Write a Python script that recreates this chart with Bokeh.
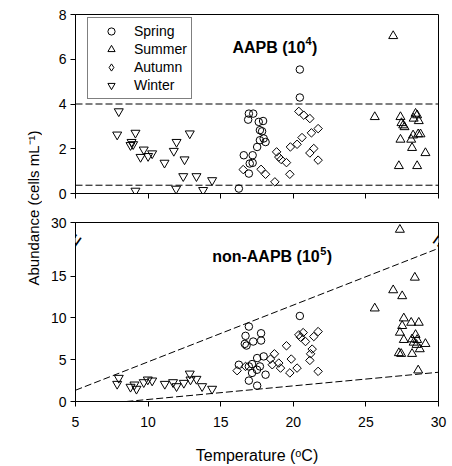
from math import pi
from bokeh.plotting import figure
from bokeh.models import Range1d, FixedTicker, Span, Label, Legend, LegendItem, BoxAnnotation
from bokeh.layouts import row, column
from bokeh.embed import file_html
from bokeh.resources import INLINE

FONT = "Liberation Sans"

# ---------------- data ----------------
x_ticks = [5, 10, 15, 20, 25, 30]
top_y_ticks = [0, 2, 4, 6, 8]
bottom_y_ticks = [0, 5, 10, 15]
bottom_top_label = "30"

# AAPB (x10^4 cells/mL)
spring_t_top = [16.25, 16.59, 16.94, 17.24, 16.89, 17.2, 17.0, 17.2, 16.94, 17.51, 17.62, 17.7, 17.7,
                17.92, 17.85, 17.96, 18.09, 20.45, 20.45]
spring_v_top = [0.22, 1.71, 3.57, 3.57, 3.30, 1.71, 1.34, 1.37, 0.89, 2.08, 3.2, 2.83, 2.38,
                3.24, 2.78, 2.46, 2.30, 5.54, 4.29]
summer_t_top = [26.88, 25.61, 27.38, 27.45, 27.57, 27.66, 28.42, 28.53, 28.29, 28.64, 27.38, 28.12,
                28.25, 28.6, 28.76, 28.18, 29.1, 27.27, 28.53]
summer_v_top = [7.04, 3.42, 3.42, 3.15, 3.05, 2.97, 3.57, 3.5, 3.35, 3.24, 2.41, 2.41,
                2.6, 2.65, 2.65, 2.04, 1.81, 1.23, 1.23]
autumn_t_top = [16.55, 17.78, 18.09, 18.73, 18.85, 19.0, 19.16, 19.53, 19.76, 19.8, 20.26, 20.6,
                20.38, 20.72, 21.14, 21.25, 21.71, 21.41, 21.14, 21.71]
autumn_v_top = [1.07, 1.08, 0.86, 0.52, 1.86, 1.63, 1.52, 1.38, 0.86, 2.08, 2.2, 2.5,
                3.67, 3.5, 3.35, 2.71, 2.9, 2.01, 1.81, 1.49]
winter_t_top = [7.98, 7.87, 9.13, 8.86, 8.97, 8.79, 9.70, 9.48, 10.0, 10.28, 9.13, 11.13, 11.77,
                11.96, 12.51, 12.87, 12.42, 11.93, 13.33, 13.79, 14.41]
winter_v_top = [3.67, 2.63, 2.71, 2.30, 2.20, 2.16, 1.96, 1.63, 1.67, 1.79, 0.12, 1.37, 1.90,
                2.30, 1.52, 2.68, 0.77, 0.21, 0.77, 0.15, 0.59]
top_hlines = [4.0, 0.37]

# non-AAPB (x10^5 cells/mL)
spring_t_bot = [16.94, 16.71, 16.66, 16.78, 17.24, 17.78, 17.78, 16.25, 16.94, 17.16, 17.51, 17.16,
                16.94, 17.51, 17.7, 20.45, 17.5, 18.09, 17.96]
spring_v_bot = [8.97, 7.86, 6.9, 6.7, 7.18, 8.17, 7.3, 4.4, 4.2, 4.48, 5.2, 3.42,
                2.5, 1.9, 4.2, 10.24, 3.8, 3.21, 5.4]
summer_t_bot = [27.34, 28.37, 26.88, 27.5, 25.61, 27.61, 27.5, 27.34, 28.12, 28.64, 28.42, 27.61,
                28.18, 28.29, 28.53, 29.1, 28.71, 28.49, 27.27, 27.43, 28.18, 28.6]
summer_v_bot = [27.0, 14.84, 13.33, 12.62, 11.15, 9.96, 9.05, 8.25, 9.44, 9.44, 7.98, 7.38,
                7.46, 7.06, 7.38, 6.9, 6.27, 6.79, 5.8, 5.71, 5.71, 3.73]
autumn_t_bot = [16.13, 16.71, 18.43, 18.7, 18.55, 19.0, 19.12, 19.53, 19.76, 19.86, 20.26, 20.38,
                20.68, 20.5, 20.84, 21.41, 21.71, 21.3, 21.19, 21.14, 21.71]
autumn_v_bot = [3.69, 4.2, 5.08, 5.71, 4.4, 4.6, 4.0, 6.67, 3.42, 5.08, 4.0, 7.98,
                8.25, 7.7, 7.18, 7.77, 8.37, 6.27, 5.71, 4.92, 3.61]
winter_t_bot = [7.98, 7.87, 8.79, 9.06, 9.2, 9.70, 9.98, 10.28, 11.15, 11.72, 11.96, 12.46,
                12.87, 12.92, 13.33, 13.72, 14.41]
winter_v_bot = [2.82, 2.1, 1.75, 2.02, 1.51, 2.3, 2.62, 2.5, 2.1, 2.3, 1.82, 2.22,
                3.33, 2.62, 2.7, 1.82, 1.51]
upper_env_t = [5, 29.8]
upper_env_v = [1.35, 18.2]
lower_env_t = [8.5, 30]
lower_env_v = [0, 3.5]

# broken axis of the lower panel: 0..20 linear, 25..30 compressed above the break
BREAK_LOW = 20.0
POS_30 = 21.43
UPPER_SCALE = 0.286
BREAK_POS = 19.3


def ypos(v):
    return v if v <= BREAK_LOW else POS_30 - (30 - v) * UPPER_SCALE


def style_axis(ax):
    ax.axis_line_color = "black"
    ax.axis_line_width = 1
    ax.major_tick_line_color = "black"
    ax.major_tick_out = 5
    ax.major_tick_in = 0
    ax.minor_tick_line_color = None
    ax.major_label_text_font = FONT
    ax.major_label_text_font_size = "14px"
    ax.major_label_text_color = "black"


MK = dict(line_color="black", fill_color=None, line_width=1)


def add_points(p, ts, vs):
    r1 = p.scatter(ts[0], vs[0], marker="circle", size=7.5, **MK)
    r2 = p.scatter(ts[1], vs[1], marker="triangle", size=9, **MK)
    r3 = p.scatter(ts[2], vs[2], marker="square", angle=pi / 4, size=6, **MK)
    r4 = p.scatter(ts[3], vs[3], marker="inverted_triangle", size=9, **MK)
    return r1, r2, r3, r4


def add_title(p, x, y, main, sup, main_w):
    kw = dict(text_font=FONT, text_font_style="bold", text_baseline="alphabetic", text_color="black")
    p.add_layout(Label(x=x, y=y, text=main, text_font_size="16px", **kw))
    p.add_layout(Label(x=x, y=y, text=sup, text_font_size="11px", x_offset=main_w, y_offset=6, **kw))
    p.add_layout(Label(x=x, y=y, text=")", text_font_size="16px", x_offset=main_w + 6.5, **kw))


# ---------------- top panel ----------------
p1 = figure(width=410, height=207, x_range=Range1d(5, 30), y_range=Range1d(0, 8),
            output_backend="svg", toolbar_location=None,
            min_border_left=33, min_border_right=14, min_border_top=14, min_border_bottom=14)
p1.grid.visible = False
p1.outline_line_color = "black"
style_axis(p1.xaxis[0])
style_axis(p1.yaxis[0])
p1.xaxis.ticker = FixedTicker(ticks=x_ticks)
p1.xaxis.major_label_overrides = {t: "" for t in x_ticks}
p1.xaxis.major_label_standoff = 0
p1.yaxis.ticker = FixedTicker(ticks=top_y_ticks)
p1.yaxis.major_label_standoff = 4

for h in top_hlines:
    p1.add_layout(Span(location=h, dimension="width", line_color="black",
                       line_dash="7 3", line_width=1))

r_sp, r_su, r_au, r_wi = add_points(
    p1, [spring_t_top, summer_t_top, autumn_t_top, winter_t_top],
    [spring_v_top, summer_v_top, autumn_v_top, winter_v_top])

# legend-only diamond swatch (a single NaN point: nothing is drawn in the plot)
r_au_leg = p1.scatter([float("nan")], [float("nan")], marker="diamond", size=8, **MK)

add_title(p1, 15.81, 6.53, "AAPB (10", "4", 73)

legend = Legend(items=[LegendItem(label="Spring", renderers=[r_sp]),
                       LegendItem(label="Summer", renderers=[r_su]),
                       LegendItem(label="Autumn", renderers=[r_au_leg]),
                       LegendItem(label="Winter", renderers=[r_wi])],
                location=(12, 94), padding=4, spacing=0, glyph_width=38, glyph_height=18,
                label_height=18, label_standoff=4, label_text_font=FONT,
                label_text_font_size="14px", label_text_color="black",
                border_line_color="black", border_line_width=1,
                background_fill_color="white", background_fill_alpha=1, margin=0)
p1.add_layout(legend)

# ---------------- bottom panel ----------------
p2 = figure(width=410, height=259, x_range=Range1d(5, 30), y_range=Range1d(0, POS_30),
            output_backend="svg", toolbar_location=None,
            min_border_left=33, min_border_right=14, min_border_top=15, min_border_bottom=64)
p2.grid.visible = False
p2.outline_line_color = "black"
style_axis(p2.xaxis[0])
style_axis(p2.yaxis[0])
p2.xaxis.ticker = FixedTicker(ticks=x_ticks)
p2.xaxis.major_label_standoff = 10
p2.xaxis.axis_label = "Temperature (ᵒC)"
p2.xaxis.axis_label_text_font = FONT
p2.xaxis.axis_label_text_font_size = "16px"
p2.xaxis.axis_label_text_font_style = "normal"
p2.xaxis.axis_label_text_color = "black"
p2.xaxis.axis_label_standoff = 17
p2.yaxis.ticker = FixedTicker(ticks=bottom_y_ticks + [POS_30])
p2.yaxis.major_label_overrides = {POS_30: bottom_top_label}
p2.yaxis.major_label_standoff = 4

p2.line(upper_env_t, upper_env_v, line_color="black", line_dash="7 3", line_width=1)
p2.line(lower_env_t, lower_env_v, line_color="black", line_dash="7 3", line_width=1)

add_points(p2, [spring_t_bot, summer_t_bot, autumn_t_bot, winter_t_bot],
           [[ypos(v) for v in spring_v_bot], [ypos(v) for v in summer_v_bot],
            [ypos(v) for v in autumn_v_bot], [ypos(v) for v in winter_v_bot]])

add_title(p2, 14.41, 17.3, "non-AAPB (10", "5", 108)

# axis-break marks (left axis and right frame edge)
for xb in (5, 30):
    p2.add_layout(BoxAnnotation(left=xb - 0.25, right=xb + 0.25,
                                bottom=BREAK_POS - 0.3, top=BREAK_POS + 0.3,
                                fill_color="white", fill_alpha=1, line_color=None,
                                level="overlay"))
    p2.add_layout(Label(x=xb, y=BREAK_POS, text="=", angle=0.95, text_align="center",
                        text_baseline="middle", text_font=FONT, text_font_size="22px",
                        text_color="black", level="overlay"))

# ---------------- shared y label ----------------
pl = figure(width=42, height=466, x_range=Range1d(0, 42), y_range=Range1d(0, 466),
            output_backend="svg", toolbar_location=None, min_border=0,
            x_axis_type=None, y_axis_type=None)
pl.grid.visible = False
pl.outline_line_color = None
pl.add_layout(Label(x=33, y=181, text="Abundance (cells mL⁻¹)", angle=pi / 2, text_align="left",
                    text_baseline="alphabetic", text_font=FONT, text_font_size="15px",
                    text_color="black"))

layout = row(pl, column(p1, p2))
open("out.html", "w").write(file_html(layout, INLINE))
